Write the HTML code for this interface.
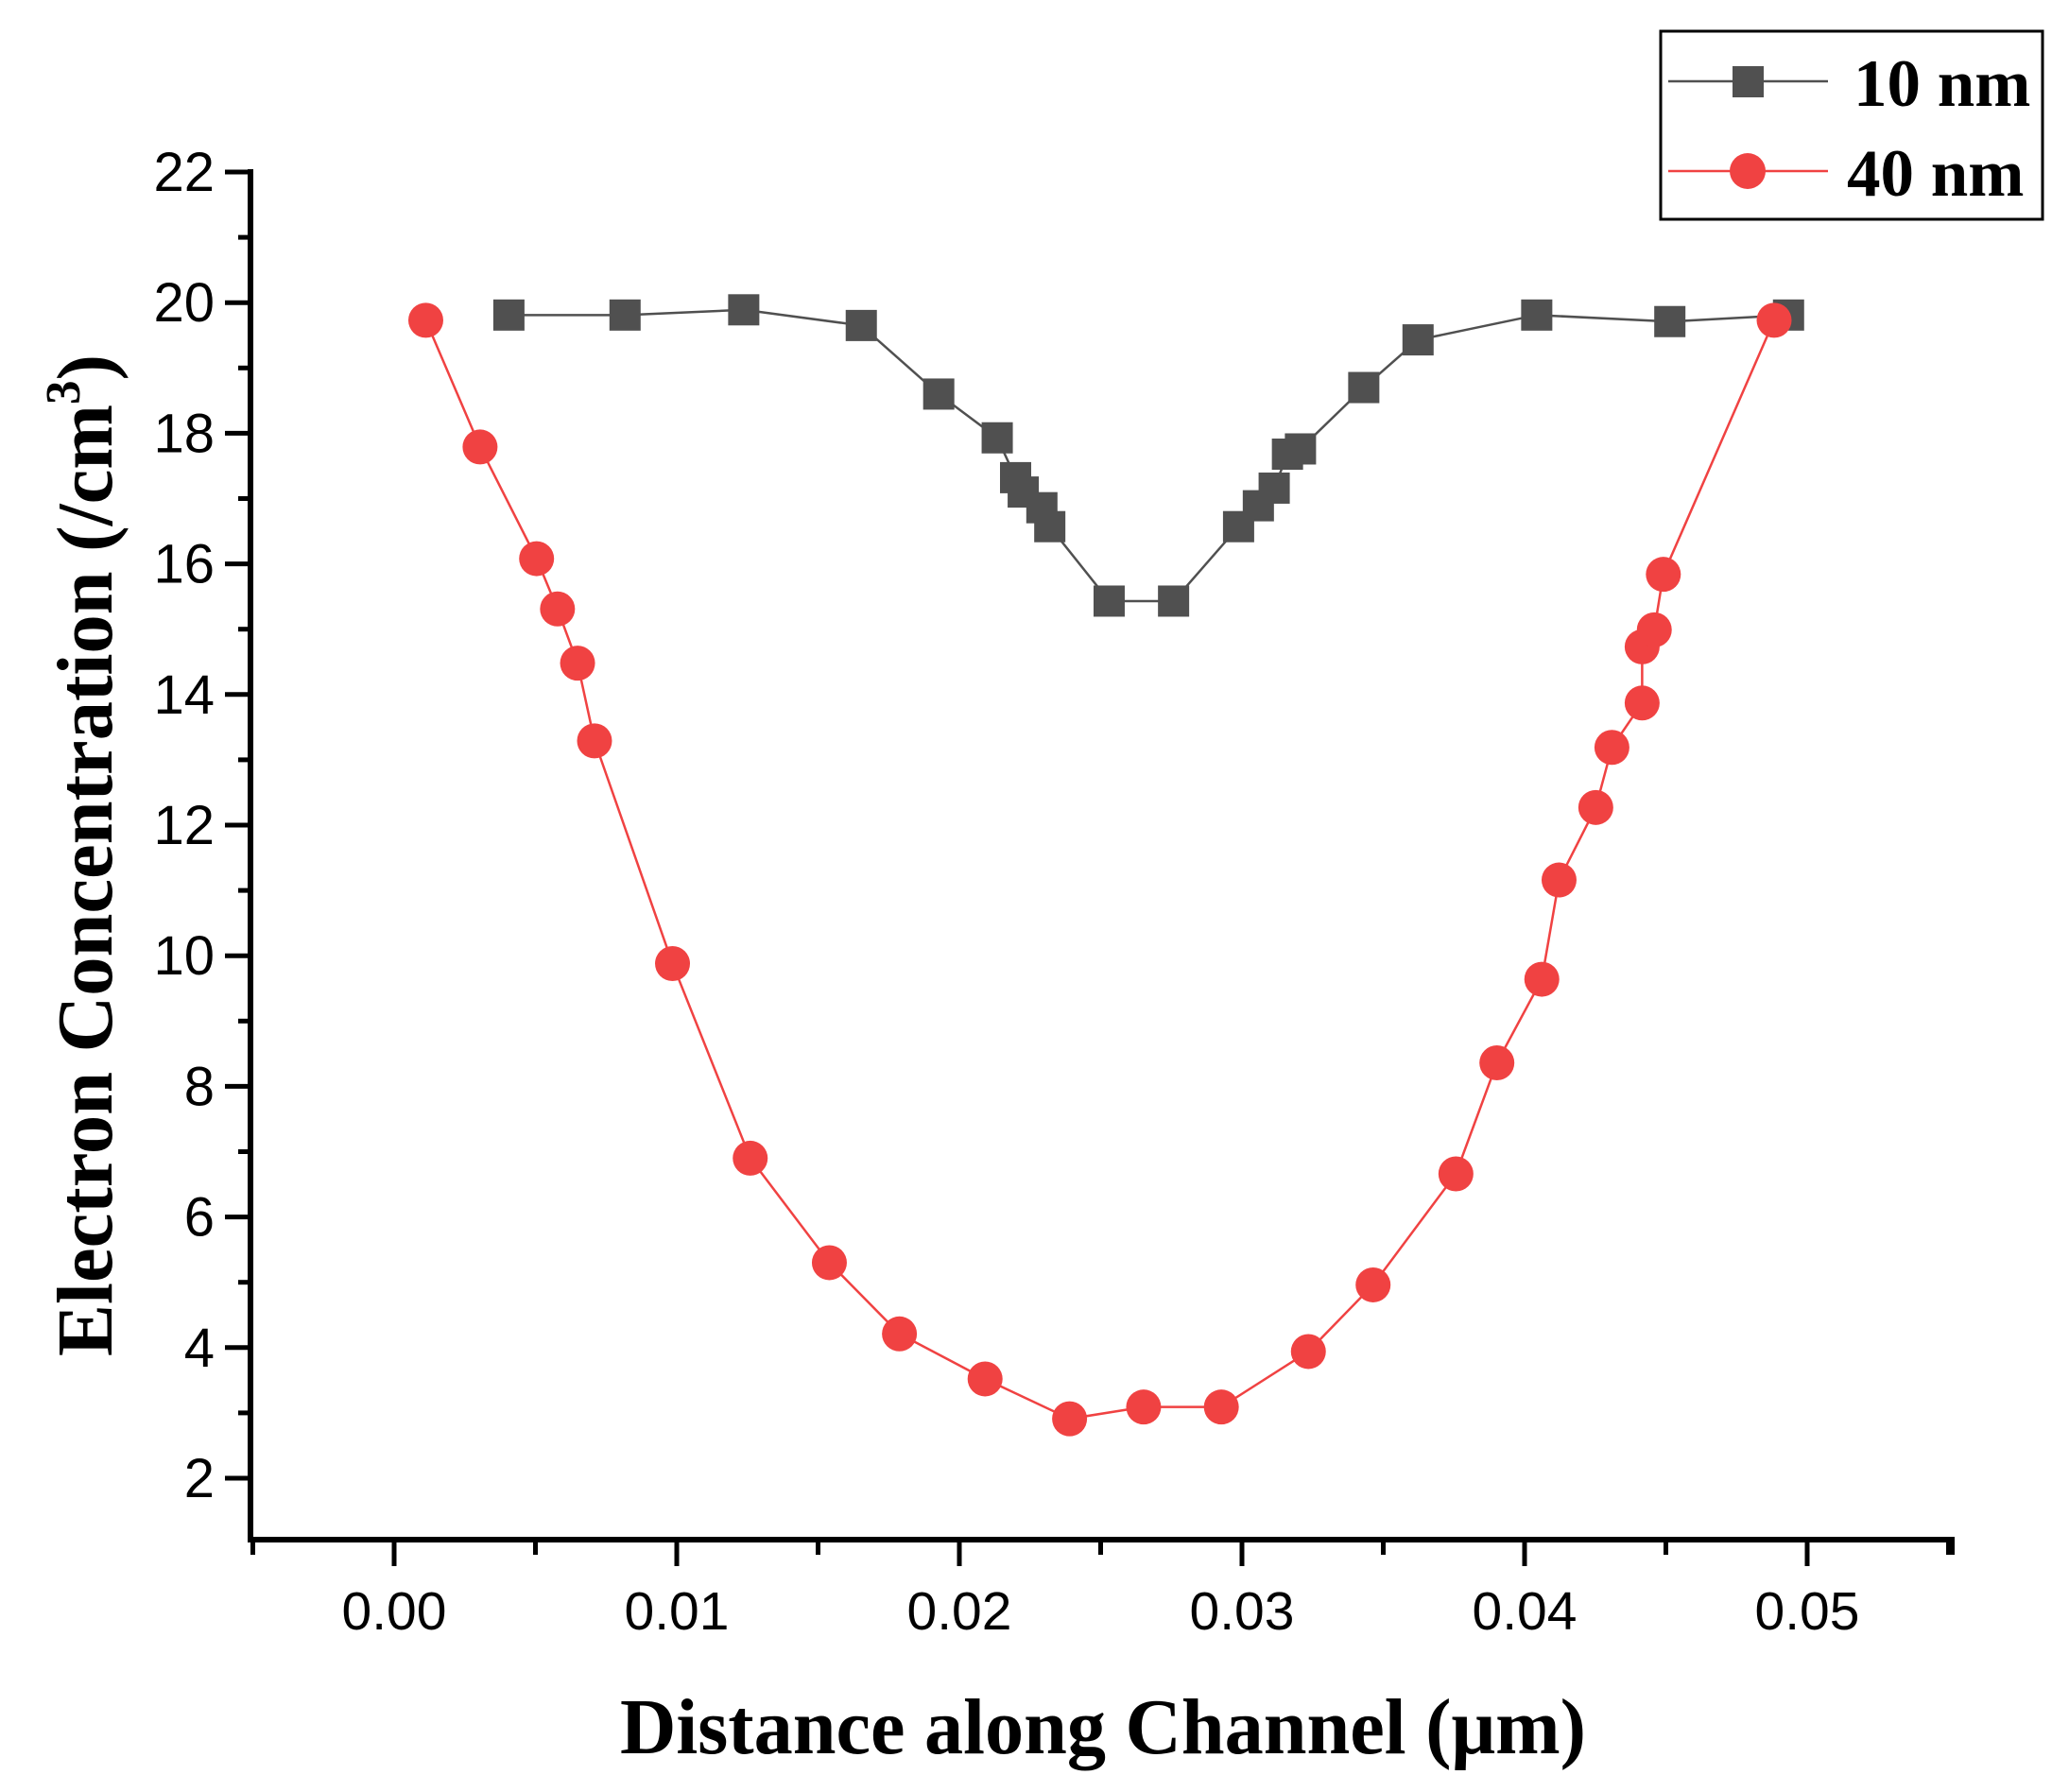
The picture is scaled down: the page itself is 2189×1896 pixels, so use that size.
<!DOCTYPE html>
<html><head><meta charset="utf-8"><style>html,body{margin:0;padding:0;background:#fff}svg{display:block}</style></head>
<body>
<svg id="chart" width="2189" height="1896" viewBox="0 0 2189 1896" xmlns="http://www.w3.org/2000/svg">
<g id="axes"></g>
<g id="series"></g>
<text x="1167" y="1855" text-anchor="middle" font-family="Liberation Serif, serif" font-weight="bold" font-size="84" textLength="1022" lengthAdjust="spacingAndGlyphs">Distance along Channel (μm)</text>
<text transform="translate(118,905) rotate(-90)" text-anchor="middle" font-family="Liberation Serif, serif" font-weight="bold" font-size="84" textLength="1060" lengthAdjust="spacingAndGlyphs">Electron Concentration (/cm<tspan font-size="52" dy="-34">3</tspan><tspan dy="34">)</tspan></text>
<g>
<rect x="1757" y="33" width="404" height="199" fill="#fff" stroke="#000" stroke-width="3"/>
<g>
<line x1="1765" y1="86" x2="1934" y2="86" stroke="#505050" stroke-width="2.5"/>
<rect x="1833" y="70" width="33" height="33" fill="#505050"/>
<text x="1961" y="112" font-family="Liberation Serif, serif" font-weight="bold" font-size="71">10 nm</text>
</g>
<g>
<line x1="1765" y1="181" x2="1934" y2="181" stroke="#f04242" stroke-width="2.5"/>
<circle cx="1849" cy="181" r="19" fill="#f04242"/>
<text x="1954" y="207" font-family="Liberation Serif, serif" font-weight="bold" font-size="71">40 nm</text>
</g>
</g>
</svg>
<script>
const xTicks = [0.00, 0.01, 0.02, 0.03, 0.04, 0.05];
const xTickLabels = ["0.00", "0.01", "0.02", "0.03", "0.04", "0.05"];
const yTicks = [2, 4, 6, 8, 10, 12, 14, 16, 18, 20, 22];
const yTickLabels = ["2", "4", "6", "8", "10", "12", "14", "16", "18", "20", "22"];
const x10 = [0.00406,0.00817,0.01237,0.01653,0.01927,0.02134,0.02199,0.02226,0.02292,0.0232,0.0253,0.02758,0.02988,0.03058,0.03114,0.03161,0.03207,0.03431,0.03623,0.04043,0.04514,0.04934];
const y10 = [19.81,19.81,19.89,19.65,18.6,17.93,17.32,17.1,16.86,16.57,15.43,15.43,16.57,16.89,17.16,17.68,17.76,18.70,19.43,19.81,19.71,19.81];
const x40 = [0.00112,0.00304,0.00504,0.00578,0.00649,0.00709,0.00985,0.0126,0.0154,0.01788,0.02091,0.0239,0.02652,0.02927,0.03235,0.03464,0.03757,0.03902,0.04061,0.04122,0.04252,0.04309,0.04416,0.04416,0.04459,0.04491,0.04883];
const y40 = [19.73,17.79,16.08,15.31,14.48,13.29,9.88,6.90,5.30,4.21,3.52,2.91,3.09,3.09,3.94,4.96,6.66,8.36,9.64,11.16,12.27,13.19,13.87,14.73,14.99,15.84,19.73];

const NS = "http://www.w3.org/2000/svg";
const X = v => 417 + v * 29900;
const Y = v => 182 + (22 - v) * 69.1;
const L = 265, R = 2065, B = 1629, T = 182;
function mk(tag, attrs, parent) {
  const e = document.createElementNS(NS, tag);
  for (const k in attrs) e.setAttribute(k, attrs[k]);
  parent.appendChild(e);
  return e;
}
const axes = document.getElementById('axes');
const series = document.getElementById('series');
const xAxis = mk('line', {x1: L - 3, y1: B, x2: R + 3, y2: B, stroke: '#000', 'stroke-width': 6}, axes);


const yAxis = mk('line', {x1: L, y1: T - 3, x2: L, y2: B + 3, stroke: '#000', 'stroke-width': 6}, axes);


for (let v = -0.005; v <= 0.0551; v += 0.01) {
  const t = mk('line', {x1: X(v), y1: B, x2: X(v), y2: B + 16, stroke: '#000', 'stroke-width': 5}, axes);
  
  
}
mk('line', {x1: R, y1: B, x2: R, y2: B + 16, stroke: '#000', 'stroke-width': 6}, axes);
xTicks.forEach((v, i) => {
  const t = mk('line', {x1: X(v), y1: B, x2: X(v), y2: B + 28, stroke: '#000', 'stroke-width': 5}, axes);
  
  
  const tx = mk('text', {x: X(v), y: 1724, 'text-anchor': 'middle', 'font-family': 'Liberation Sans, sans-serif', 'font-size': 57}, axes);
  tx.textContent = xTickLabels[i];
  
  
});
yTicks.forEach((v, i) => {
  const t = mk('line', {x1: L - 27, y1: Y(v), x2: L, y2: Y(v), stroke: '#000', 'stroke-width': 5}, axes);
  
  
  if (v > 2) {
    const m = mk('line', {x1: L - 13, y1: Y(v - 1), x2: L, y2: Y(v - 1), stroke: '#000', 'stroke-width': 5}, axes);
    
    
  }
  const tx = mk('text', {x: L - 38, y: Y(v) + 20, 'text-anchor': 'end', 'font-family': 'Liberation Sans, sans-serif', 'font-size': 58}, axes);
  tx.textContent = yTickLabels[i];
  
  
});
function drawSeries(xs, ys, color, shape, name) {
  const g = mk('g', {}, series);
  
  
  const pts = xs.map((x, i) => X(x) + ',' + Y(ys[i])).join(' ');
  const pl = mk('polyline', {points: pts, fill: 'none', stroke: color, 'stroke-width': 2.5}, g);
  
  
  xs.forEach((x, i) => {
    let m;
    if (shape === 'square') m = mk('rect', {x: X(x) - 16.5, y: Y(ys[i]) - 16.5, width: 33, height: 33, fill: color}, g);
    else m = mk('circle', {cx: X(x), cy: Y(ys[i]), r: 18.5, fill: color}, g);
    
    
  });
}
drawSeries(x10, y10, '#505050', 'square', 'series-10nm');
drawSeries(x40, y40, '#f04242', 'circle', 'series-40nm');
</script>
</body></html>
